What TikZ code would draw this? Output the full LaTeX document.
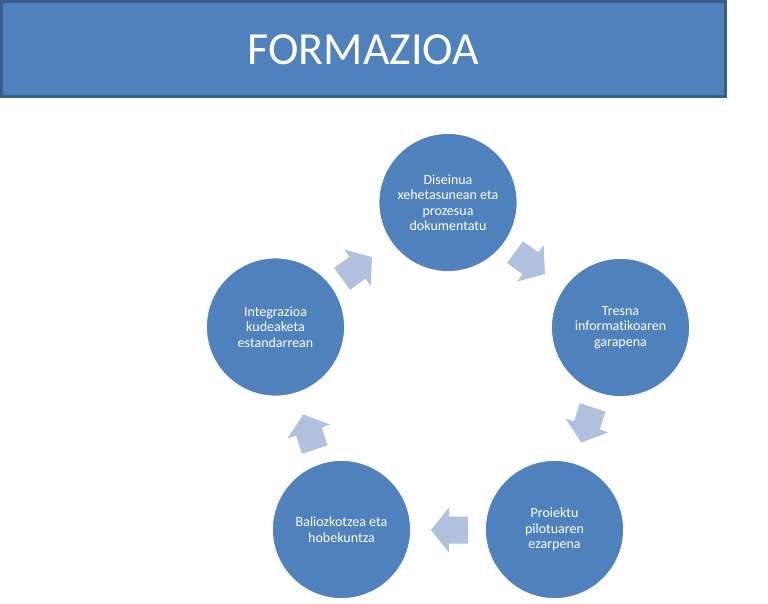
\documentclass[tikz,border=0pt]{standalone}
\usepackage{fontspec}
\setmainfont{Carlito}[Ligatures={NoCommon}]
\definecolor{accent}{RGB}{79,129,189}
\definecolor{accentdark}{RGB}{56,93,138}
\definecolor{arrowfill}{RGB}{176,193,222}
\tikzset{
  stage/.style={circle, fill=accent, draw=white, line width=0.8pt, minimum size=138pt,
    inner sep=0pt, text=white, align=center,
    font=\fontsize{14}{15.5}\selectfont},
  titlebox/.style={rectangle, fill=accent, draw=accentdark, line width=3pt,
    minimum width=724pt, minimum height=95.5pt, inner sep=0pt, text=white,
    font=\fontsize{46}{50}\selectfont},
  flowarrow/.style={fill=arrowfill}
}
\newcommand{\blockarrow}[3]{%
  \begin{scope}[shift={(#1,#2)}, rotate=#3]
    \fill[flowarrow] (-18.5,13.5) -- (0.5,13.5) -- (0.5,22.5) -- (18.5,0)
      -- (0.5,-22.5) -- (0.5,-13.5) -- (-18.5,-13.5) -- cycle;
  \end{scope}}
\begin{document}
\begin{tikzpicture}[x=1pt,y=1pt]
  \useasboundingbox (0,0) rectangle (768,603);
  \node[titlebox] (title) at (363.5,553.75) {FORMAZIOA};
  \node[stage] (s1) at (448,400.5) {Diseinua\\xehetasunean eta\\prozesua\\dokumentatu};
  \node[stage] (s2) at (620.5,275.5) {Tresna\\informatikoaren\\garapena};
  \node[stage] (s3) at (554.5,73.5) {Proiektu\\pilotuaren\\ezarpena};
  \node[stage] (s4) at (341.5,73.5) {Baliozkotzea eta\\hobekuntza};
  \node[stage] (s5) at (275.5,276) {Integrazioa\\kudeaketa\\estandarrean};
  \blockarrow{530}{340}{-36}
  \blockarrow{587}{178}{-108}
  \blockarrow{449.5}{73}{180}
  \blockarrow{309}{171}{108}
  \blockarrow{357}{335}{36}
\end{tikzpicture}
\end{document}
